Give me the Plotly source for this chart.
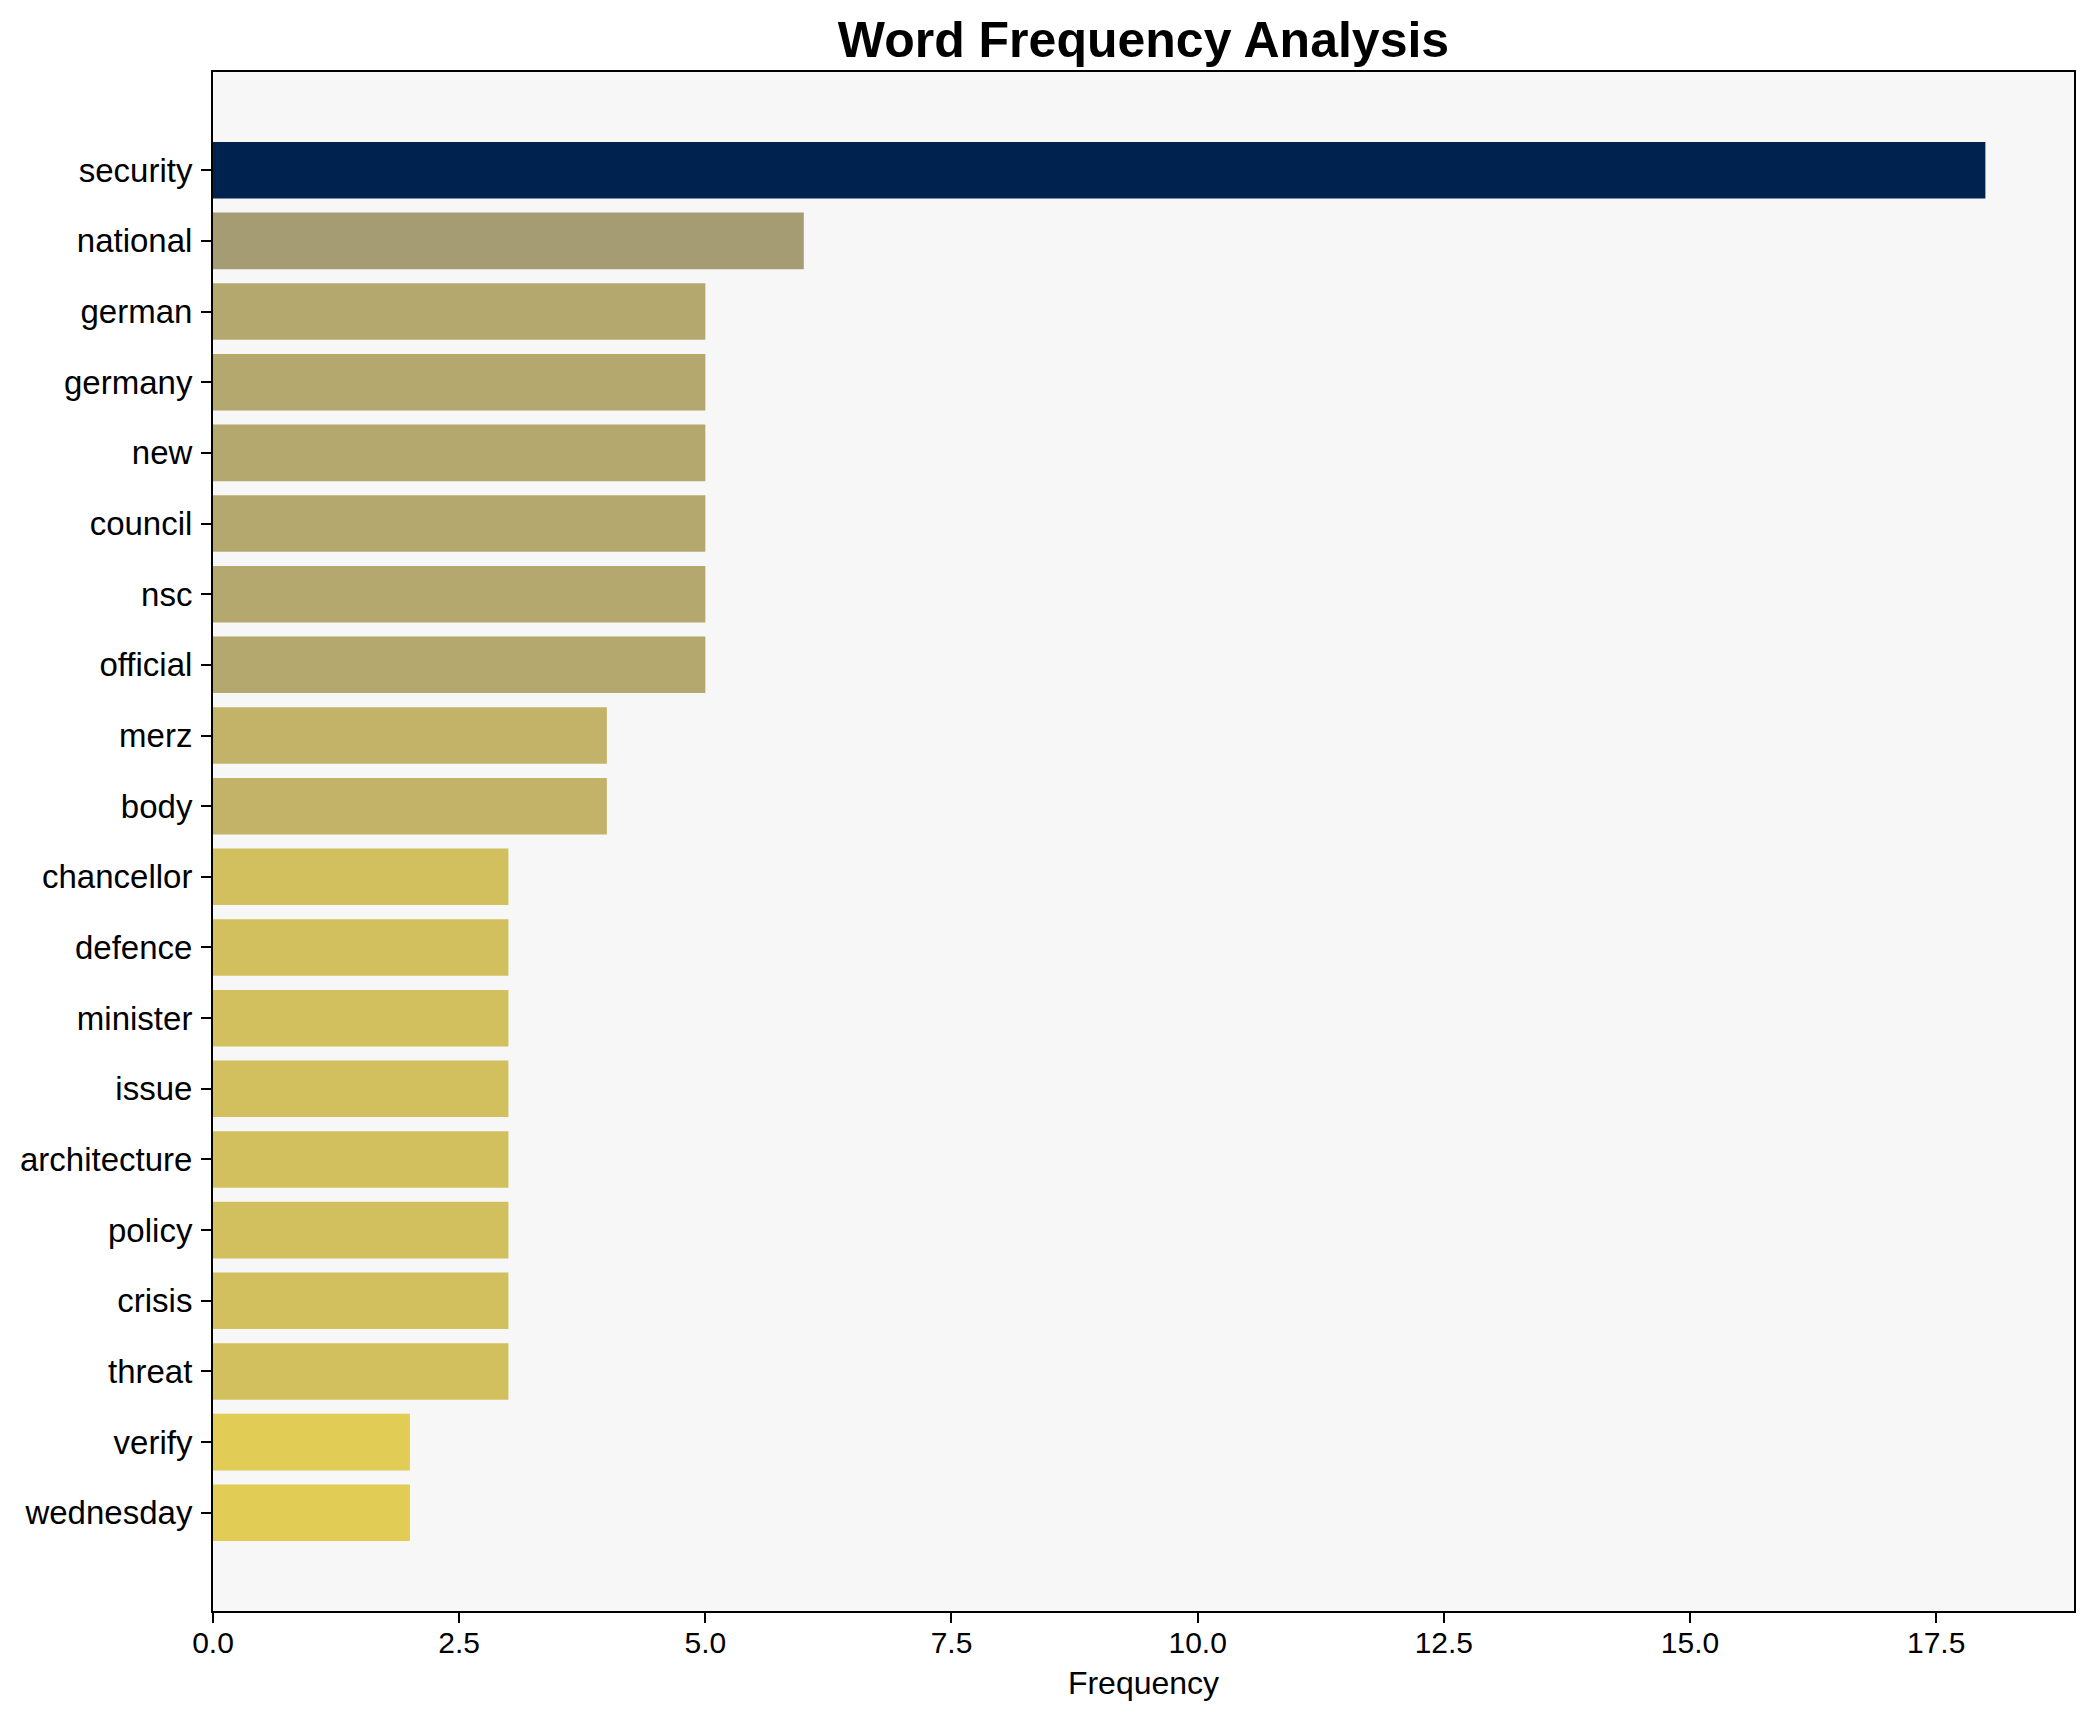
import plotly.graph_objects as go
from plotly.colors import sample_colorscale

words = ["security", "national", "german", "germany", "new", "council", "nsc",
         "official", "merz", "body", "chancellor", "defence", "minister", "issue",
         "architecture", "policy", "crisis", "threat", "verify", "wednesday"]
counts = [18, 6, 5, 5, 5, 5, 5, 5, 4, 4, 3, 3, 3, 3, 3, 3, 3, 3, 2, 2]
x_ticks = [0.0, 2.5, 5.0, 7.5, 10.0, 12.5, 15.0, 17.5]

vmax = max(counts)
colors = sample_colorscale("Cividis", [1 - c / vmax for c in counts])

W, H = 2093, 1722
OFF = 8  # page body margin
L, R, T, B = 213 - OFF, 2074 - OFF, 72 - OFF, 1611 - OFF

fig = go.Figure(go.Bar(
    x=counts, y=words, orientation="h",
    marker=dict(color=colors, line=dict(width=0)),
    width=0.8,
))

font = "Liberation Sans, Arial, Helvetica, sans-serif"
n = len(words)
fig.update_layout(
    width=W, height=H,
    margin=dict(l=L, r=W - R, t=T, b=H - B, pad=0),
    paper_bgcolor="white",
    plot_bgcolor="#f7f7f7",
    font=dict(family=font, size=32, color="black"),
    title=dict(text="<b>Word Frequency Analysis</b>", x=(L + R) / 2 / W, xanchor="center",
               y=1 - (39 - OFF) / H, yanchor="middle", yref="container",
               font=dict(family=font, size=50, color="black")),
    showlegend=False,
    bargap=0.2,
)
fig.update_xaxes(
    range=[0, vmax * 1.05],
    tickvals=x_ticks, ticktext=[f"{t:.1f}" for t in x_ticks],
    ticks="outside", ticklen=10, tickwidth=2, tickcolor="black",
    showgrid=False, zeroline=False,
    showline=True, linecolor="black", linewidth=2, mirror=True,
    ticklabelstandoff=-6,
    title=dict(text="Frequency", font=dict(size=32), standoff=14),
    tickfont=dict(size=30),
)
fig.update_yaxes(
    type="category", categoryorder="array", categoryarray=words,
    range=[n - 1 + 1.39, -1.39],
    ticks="outside", ticklen=10, tickwidth=2, tickcolor="black",
    showgrid=False, zeroline=False,
    showline=True, linecolor="black", linewidth=2, mirror=True,
    ticklabelstandoff=2,
    tickfont=dict(size=33),
)

fig.write_html("out.html")
